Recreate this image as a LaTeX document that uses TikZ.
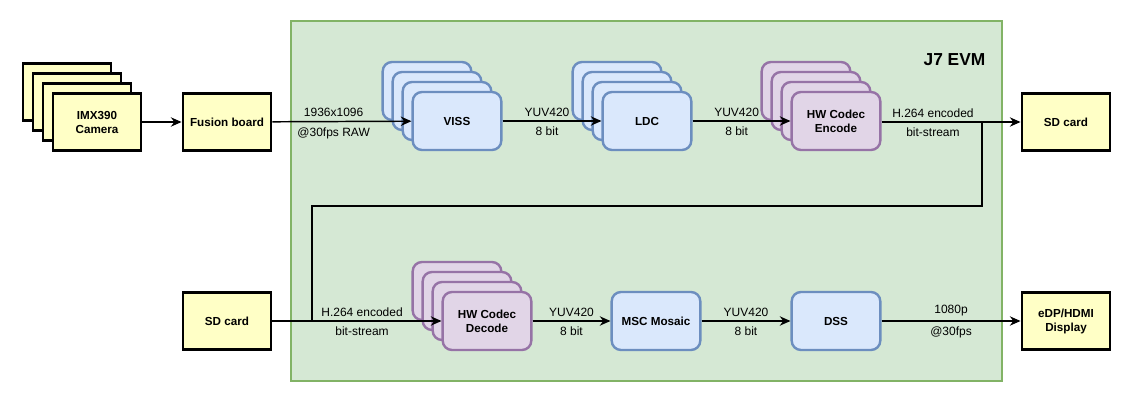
\documentclass[tikz,border=0pt]{standalone}
\usepackage{fontspec}
\setmainfont{Liberation Sans}
\usepackage{tikz}
\usetikzlibrary{calc}
\usetikzlibrary{positioning}
\usetikzlibrary{arrows.meta}

\definecolor{evmfill}{HTML}{D5E8D4}
\definecolor{evmline}{HTML}{82B366}
\definecolor{hwfill}{HTML}{FFFFC6}
\definecolor{blkfill}{HTML}{DAE8FC}
\definecolor{blkline}{HTML}{6C8EBF}
\definecolor{codfill}{HTML}{E1D5E7}
\definecolor{codline}{HTML}{9673A6}

\begin{document}
\begin{tikzpicture}[x=0.75pt,y=-0.75pt,font=\fontsize{9}{10.5}\selectfont]
			\tikzset{hwbox/.style={draw=black,fill=hwfill,line width=2.2pt,minimum width=66pt,minimum height=43pt,inner sep=1pt,align=center,font=\fontsize{8.75}{10.5}\selectfont\bfseries}}
			\tikzset{blkbox/.style={draw=blkline,fill=blkfill,line width=1.8pt,rounded corners=7pt,minimum width=66.5pt,minimum height=43.5pt,inner sep=1pt,align=center,font=\fontsize{8.75}{10.5}\selectfont\bfseries}}
			\tikzset{codbox/.style={blkbox,draw=codline,fill=codfill}}
			\tikzset{flow/.style={draw=black,line width=1.1pt,-{Stealth[length=8pt,width=7pt]}}}
			\tikzset{lbl/.style={inner sep=0pt,font=\fontsize{9}{10.5}\selectfont}}
			\useasboundingbox (0,0) rectangle (1133,403);
			% J7 EVM board
			\draw[draw=evmline,fill=evmfill,line width=1.9pt] (291,21) rectangle (1002,381);
			\node[anchor=east,font=\fontsize{13}{15}\selectfont\bfseries] (evm) at (990,60) {J7 EVM};
			% Place Nodes
			\foreach \i in {3,2,1}
				\node[hwbox] (cam\i) at (97-10*\i,122-10*\i) {};
			\node[hwbox] (cam) at (97,122) {IMX390\\Camera};
			\node[hwbox] (fusion) at (227,122) {Fusion board};
			\foreach \i in {3,2,1}
				\node[blkbox] (viss\i) at (457-10*\i,121-10*\i) {};
			\node[blkbox] (viss) at (457,121) {VISS};
			\foreach \i in {3,2,1}
				\node[blkbox] (ldc\i) at (647-10*\i,121-10*\i) {};
			\node[blkbox] (ldc) at (647,121) {LDC};
			\foreach \i in {3,2,1}
				\node[codbox] (enc\i) at (836-10*\i,121-10*\i) {};
			\node[codbox] (enc) at (836,121) {HW Codec\\Encode};
			\node[hwbox] (sdout) at (1066,122) {SD card};
			\node[hwbox] (sdin) at (227,321) {SD card};
			\foreach \i in {3,2,1}
				\node[codbox] (dec\i) at (487-10*\i,321-10*\i) {};
			\node[codbox] (dec) at (487,321) {HW Codec\\Decode};
			\node[blkbox] (msc) at (656,321) {MSC Mosaic};
			\node[blkbox] (dss) at (836,321) {DSS};
			\node[hwbox] (disp) at (1066,321) {eDP/HDMI\\Display};
			\coordinate (split) at (982,122);
			\coordinate (turn) at (312,206);
			\coordinate (join) at (312,321);
			% Draw flow paths
			\draw[flow] (cam) -- (fusion);
			\draw[flow] (fusion) -- node[lbl,above=3pt,pos=0.44] {1936x1096} node[lbl,below=4pt,pos=0.44] {@30fps RAW} (viss);
			\draw[flow] (viss) -- node[lbl,above=3pt,pos=0.45] {YUV420} node[lbl,below=4pt,pos=0.45] {8 bit} (ldc);
			\draw[flow] (ldc) -- node[lbl,above=3pt,pos=0.45] {YUV420} node[lbl,below=4pt,pos=0.45] {8 bit} (enc);
			\draw[flow] (enc.east |- split) -- node[lbl,above=3pt,pos=0.37] {H.264 encoded} node[lbl,below=4pt,pos=0.37] {bit-stream} (sdout);
			\draw[line width=1.1pt] (split) |- (turn) -- (join);
			\draw[flow] (sdin) -- node[lbl,above=3pt,pos=0.53] {H.264 encoded} node[lbl,below=4pt,pos=0.53] {bit-stream} (dec);
			\draw[flow] (dec) -- node[lbl,above=3pt] {YUV420} node[lbl,below=4pt] {8 bit} (msc);
			\draw[flow] (msc) -- node[lbl,above=3pt] {YUV420} node[lbl,below=4pt] {8 bit} (dss);
			\draw[flow] (dss) -- node[lbl,above=3pt] {1080p} node[lbl,below=4pt] {@30fps} (disp);
\end{tikzpicture}
\end{document}
